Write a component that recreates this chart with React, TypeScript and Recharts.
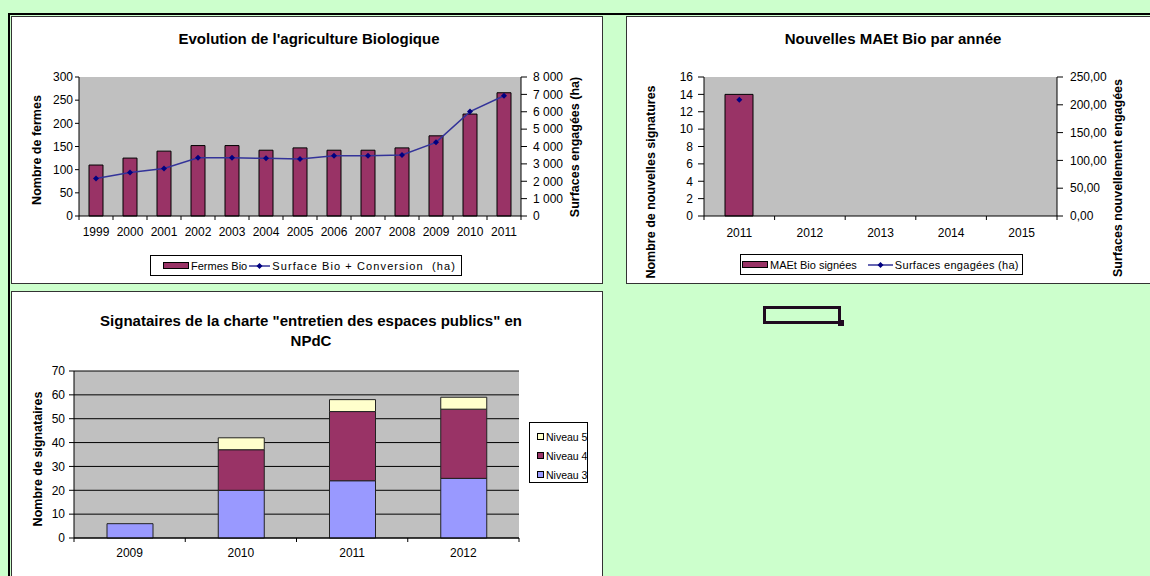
import React from "react";
import {
  Bar,
  BarChart,
  CartesianGrid,
  ComposedChart,
  Legend,
  Line,
  ReferenceArea,
  XAxis,
  YAxis,
} from "recharts";

const FONT = '"Liberation Sans", Arial, sans-serif';

// Evolution de l'agriculture Biologique
const bioYears = ["1999", "2000", "2001", "2002", "2003", "2004", "2005", "2006", "2007", "2008", "2009", "2010", "2011"];
const fermesBio = [110, 125, 140, 152, 152, 142, 147, 142, 142, 147, 173, 220, 266];
const surfaceBio = [2160, 2500, 2740, 3350, 3350, 3320, 3280, 3470, 3470, 3510, 4240, 6010, 6920];
const fermesTicks = [0, 50, 100, 150, 200, 250, 300];
const surfaceTicks = [0, 1000, 2000, 3000, 4000, 5000, 6000, 7000, 8000];

// Nouvelles MAEt Bio par année
const maetYears = ["2011", "2012", "2013", "2014", "2015"];
const maetSignees = [14, null, null, null, null];
const maetSurfaces = [209, null, null, null, null];
const signTicks = [0, 2, 4, 6, 8, 10, 12, 14, 16];
const surfTicks = [0, 50, 100, 150, 200, 250];

// Signataires de la charte
const charteYears = ["2009", "2010", "2011", "2012"];
const niveau3 = [6, 20, 24, 25];
const niveau4 = [0, 17, 29, 29];
const niveau5 = [0, 5, 5, 5];
const charteTicks = [0, 10, 20, 30, 40, 50, 60, 70];

const MAROON = "#993366";
const LAVENDER = "#9999ff";
const CREAM = "#ffffcc";
const PLOT_BG = "#c0c0c0";
const PLOT_EDGE = "#808080";
const LINE_BLUE = "#333399";
const DOT_NAVY = "#000080";

const bioData = bioYears.map((year, i) => ({ year, fermes: fermesBio[i], surface: surfaceBio[i] }));
const maetData = maetYears.map((year, i) => ({ year, signees: maetSignees[i], surfaces: maetSurfaces[i] }));
const charteData = charteYears.map((year, i) => ({ year, n3: niveau3[i], n4: niveau4[i], n5: niveau5[i] }));

const tickText = { fill: "#000", fontSize: 12 };

const thousands = (v: number) =>
  v >= 1000 ? `${Math.floor(v / 1000)} ${String(v % 1000).padStart(3, "0")}` : String(v);
const decimals = (v: number) => v.toFixed(2).replace(".", ",");

// excel puts category ticks between the bars
function betweenTicks(band: number, count: number, labelDy: number) {
  return (props: any) => {
    const { x, y, index, payload } = props;
    const half = band / 2;
    return (
      <g>
        <line x1={x - half} y1={y} x2={x - half} y2={y + 4} stroke="#000" />
        {index === count - 1 && <line x1={x + half} y1={y} x2={x + half} y2={y + 4} stroke="#000" />}
        <text x={x} y={y + labelDy} textAnchor="middle" fontSize={12} fill="#000">
          {payload.value}
        </text>
      </g>
    );
  };
}

function diamond(props: any) {
  const { cx, cy, index } = props;
  if (cx == null || cy == null) return <g key={`d${index}`} />;
  const r = 3;
  return (
    <path
      key={`d${index}`}
      d={`M${cx},${cy - r}L${cx + r},${cy}L${cx},${cy + r}L${cx - r},${cy}Z`}
      fill={DOT_NAVY}
    />
  );
}

const BarKey = ({ color, w = 26 }: { color: string; w?: number }) => (
  <span
    style={{
      display: "inline-block",
      flex: "none",
      width: w,
      height: 7,
      background: color,
      border: "1px solid #000",
      boxSizing: "border-box",
    }}
  />
);

const LineKey = ({ w }: { w: number }) => (
  <svg width={w} height={8} style={{ display: "block", flex: "none" }}>
    <line x1={0} y1={4} x2={w} y2={4} stroke={LINE_BLUE} strokeWidth={1.5} />
    <path d={`M${w / 2},1L${w / 2 + 3},4L${w / 2},7L${w / 2 - 3},4Z`} fill={DOT_NAVY} />
  </svg>
);

function rowLegend(width: number, padLeft: number, gap: number, lineW: number, lineSpacing = 0) {
  return (props: any) => {
    const items = [...(props.payload ?? [])].sort(
      (a: any, b: any) => (a.type === "line" ? 1 : 0) - (b.type === "line" ? 1 : 0)
    );
    return (
      <div
        style={{
          width,
          height: 21,
          boxSizing: "border-box",
          border: "1px solid #000",
          background: "#fff",
          display: "flex",
          alignItems: "center",
          paddingLeft: padLeft,
          fontSize: 11,
          color: "#000",
          whiteSpace: "pre",
        }}
      >
        {items.map((it: any, i: number) => (
          <React.Fragment key={it.value}>
            {it.type === "line" ? <LineKey w={lineW} /> : <BarKey color={it.color} />}
            <span
              style={{
                marginLeft: 2,
                marginRight: i === 0 ? gap : 0,
                letterSpacing: it.type === "line" ? lineSpacing : 0,
              }}
            >
              {it.value}
            </span>
          </React.Fragment>
        ))}
      </div>
    );
  };
}

function columnLegend(props: any) {
  const items = [...(props.payload ?? [])].sort((a: any, b: any) => (a.value < b.value ? 1 : -1));
  return (
    <div
      style={{
        width: 59,
        height: 61,
        boxSizing: "border-box",
        border: "1px solid #000",
        background: "#fff",
        paddingTop: 4,
        paddingLeft: 7,
        fontSize: 10.5,
        color: "#000",
        whiteSpace: "nowrap",
      }}
    >
      {items.map((it: any) => (
        <div key={it.value} style={{ height: 19, display: "flex", alignItems: "center" }}>
          <BarKey color={it.color} w={7} />
          <span style={{ marginLeft: 2 }}>{it.value}</span>
        </div>
      ))}
    </div>
  );
}

const Box = ({ left, top, width, height, children }: any) => (
  <div
    style={{
      position: "absolute",
      left,
      top,
      width,
      height,
      boxSizing: "border-box",
      border: "1px solid #333",
      background: "#fff",
      overflow: "hidden",
    }}
  >
    {children}
  </div>
);

const Title = ({ cx, cy, children, lh = 16 }: any) => (
  <div
    style={{
      position: "absolute",
      left: cx - 300,
      top: cy - lh / 2,
      width: 600,
      textAlign: "center",
      fontWeight: "bold",
      fontSize: 15,
      lineHeight: `${lh}px`,
      color: "#000",
    }}
  >
    {children}
  </div>
);

const VTitle = ({ cx, cy, children }: any) => (
  <div
    style={{
      position: "absolute",
      left: cx,
      top: cy,
      transform: "translate(-50%, -50%) rotate(-90deg)",
      whiteSpace: "nowrap",
      fontWeight: "bold",
      fontSize: 12.5,
      lineHeight: 1,
      color: "#000",
    }}
  >
    {children}
  </div>
);

function BioChart() {
  return (
    <ComposedChart width={590} height={266} data={bioData} margin={{ top: 60, right: 0, bottom: 37, left: 0 }}>
      <CartesianGrid yAxisId="left" horizontal={false} vertical={false} fill={PLOT_BG} />
      <ReferenceArea yAxisId="left" fill="none" stroke={PLOT_EDGE} />
      <XAxis
        dataKey="year"
        interval={0}
        height={30}
        stroke="#000"
        tickLine={false}
        tickSize={0}
        tickMargin={0}
        tick={betweenTicks(442 / 13, bioYears.length, 20)}
      />
      <YAxis
        yAxisId="left"
        domain={[0, 300]}
        ticks={fermesTicks}
        interval={0}
        width={67}
        stroke="#000"
        tickSize={4}
        tickMargin={2}
        tick={tickText}
      />
      <YAxis
        yAxisId="right"
        orientation="right"
        domain={[0, 8000]}
        ticks={surfaceTicks}
        interval={0}
        width={81}
        stroke="#000"
        tickSize={6}
        tickMargin={6}
        tick={tickText}
        tickFormatter={thousands}
      />
      <Bar
        yAxisId="left"
        dataKey="fermes"
        name="Fermes Bio"
        fill={MAROON}
        stroke="#000"
        strokeWidth={1}
        barSize={14}
        isAnimationActive={false}
      />
      <Line
        yAxisId="right"
        type="linear"
        dataKey="surface"
        name="Surface Bio + Conversion  (ha)"
        stroke={LINE_BLUE}
        strokeWidth={1.5}
        dot={diamond}
        activeDot={false}
        isAnimationActive={false}
      />
      <Legend
        layout="horizontal"
        verticalAlign="middle"
        align="center"
        wrapperStyle={{ left: 138, top: 238, width: "auto", height: "auto" }}
        content={rowLegend(312, 12, 2, 21, 1.1)}
      />
    </ComposedChart>
  );
}

function MaetChart() {
  return (
    <ComposedChart width={538} height={266} data={maetData} margin={{ top: 60, right: 28, bottom: 37, left: 0 }}>
      <CartesianGrid yAxisId="left" horizontal={false} vertical={false} fill={PLOT_BG} />
      <ReferenceArea yAxisId="left" fill="none" stroke={PLOT_EDGE} />
      <XAxis
        dataKey="year"
        interval={0}
        height={30}
        stroke="#000"
        tickLine={false}
        tickSize={0}
        tickMargin={0}
        tick={betweenTicks(353 / 5, maetYears.length, 21)}
      />
      <YAxis
        yAxisId="left"
        domain={[0, 16]}
        ticks={signTicks}
        interval={0}
        width={77}
        stroke="#000"
        tickSize={6}
        tickMargin={5}
        tick={tickText}
      />
      <YAxis
        yAxisId="right"
        orientation="right"
        domain={[0, 250]}
        ticks={surfTicks}
        interval={0}
        width={80}
        stroke="#000"
        tickSize={6}
        tickMargin={7}
        tick={tickText}
        tickFormatter={decimals}
      />
      <Bar
        yAxisId="left"
        dataKey="signees"
        name="MAEt Bio signées"
        fill={MAROON}
        stroke="#000"
        strokeWidth={1}
        barSize={28}
        isAnimationActive={false}
      />
      <Line
        yAxisId="right"
        type="linear"
        dataKey="surfaces"
        name="Surfaces engagées (ha)"
        stroke={LINE_BLUE}
        strokeWidth={1.5}
        dot={diamond}
        activeDot={false}
        isAnimationActive={false}
      />
      <Legend
        layout="horizontal"
        verticalAlign="middle"
        align="center"
        wrapperStyle={{ left: 113, top: 237, width: "auto", height: "auto" }}
        content={rowLegend(283, 1, 11, 25, 0.3)}
      />
    </ComposedChart>
  );
}

function CharteChart() {
  return (
    <BarChart width={590} height={298} data={charteData} margin={{ top: 79, right: 83, bottom: 22, left: 0 }}>
      <CartesianGrid vertical={false} stroke="#000" fill={PLOT_BG} />
      <ReferenceArea fill="none" stroke={PLOT_EDGE} />
      <XAxis
        dataKey="year"
        interval={0}
        height={30}
        stroke="#000"
        tickLine={false}
        tickSize={0}
        tickMargin={0}
        tick={betweenTicks(445 / 4, charteYears.length, 19)}
      />
      <YAxis
        domain={[0, 70]}
        ticks={charteTicks}
        interval={0}
        width={62}
        stroke="#000"
        tickSize={5}
        tickMargin={4}
        tick={tickText}
      />
      <Bar dataKey="n3" name="Niveau 3" stackId="a" fill={LAVENDER} stroke="#222" barSize={46} isAnimationActive={false} />
      <Bar dataKey="n4" name="Niveau 4" stackId="a" fill={MAROON} stroke="#222" barSize={46} isAnimationActive={false} />
      <Bar dataKey="n5" name="Niveau 5" stackId="a" fill={CREAM} stroke="#222" barSize={46} isAnimationActive={false} />
      <Legend
        layout="vertical"
        verticalAlign="middle"
        align="center"
        wrapperStyle={{ left: 517, top: 130, width: "auto", height: "auto" }}
        content={columnLegend}
      />
    </BarChart>
  );
}

export default function App() {
  return (
    <div
      style={{
        position: "absolute",
        left: 0,
        top: 0,
        width: 1150,
        height: 576,
        overflow: "hidden",
        background: "#ccffcc",
        fontFamily: FONT,
      }}
    >
      <div style={{ position: "absolute", left: 8, top: 13, width: 1142, height: 2, background: "#000" }} />
      <div style={{ position: "absolute", left: 8, top: 13, width: 2, height: 563, background: "#000" }} />

      <Box left={11} top={16} width={592} height={268}>
        <BioChart />
      </Box>
      <Box left={626} top={16} width={540} height={268}>
        <MaetChart />
      </Box>
      <Box left={11} top={291} width={592} height={300}>
        <CharteChart />
      </Box>

      <Title cx={309} cy={38.5}>Evolution de l'agriculture Biologique</Title>
      <Title cx={893} cy={38.5}>Nouvelles MAEt Bio par année</Title>
      <Title cx={311} cy={321} lh={19.5}>
        Signataires de la charte "entretien des espaces publics" en
        <br />
        NPdC
      </Title>

      <VTitle cx={37} cy={150}>Nombre de fermes</VTitle>
      <VTitle cx={574.5} cy={146.5}>Surfaces engagées (ha)</VTitle>
      <VTitle cx={650.7} cy={181.5}>Nombre de nouvelles signatures</VTitle>
      <VTitle cx={1117.5} cy={177.5}>Surfaces nouvellement engagées</VTitle>
      <VTitle cx={38} cy={458.5}>Nombre de signataires</VTitle>

      <div
        style={{
          position: "absolute",
          left: 763,
          top: 306,
          width: 78,
          height: 18,
          boxSizing: "border-box",
          border: "3px solid #1f0a1f",
        }}
      />
      <div style={{ position: "absolute", left: 838, top: 320, width: 6, height: 6, background: "#1f0a1f" }} />
    </div>
  );
}
